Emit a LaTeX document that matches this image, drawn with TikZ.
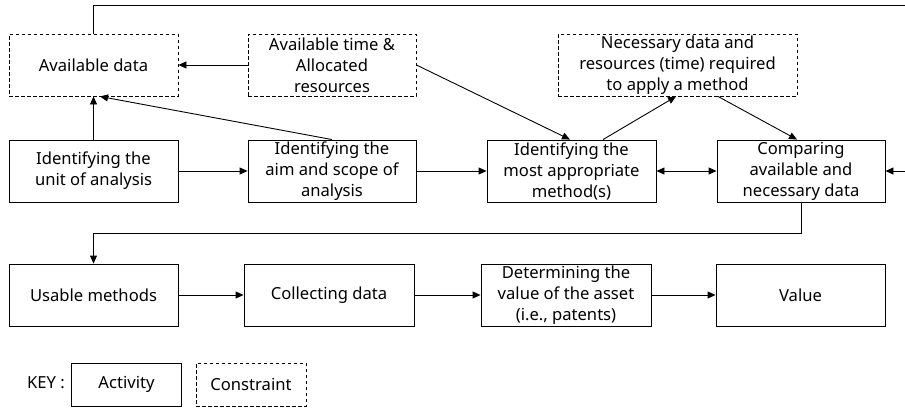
\documentclass[tikz,border=0pt]{standalone}
\usepackage{fontspec}
\setmainfont{Noto Sans}
\usetikzlibrary{arrows.meta}
\begin{document}
\begin{tikzpicture}[x=1pt,y=-1pt,
  every node/.style={font=\fontsize{16.6}{21}\selectfont, align=center, inner sep=0pt},
  act/.style={draw, line width=0.9pt, minimum height=62pt},
  con/.style={draw, dashed, dash pattern=on 3.5pt off 2.5pt, line width=0.9pt, minimum height=62pt},
  conn/.style={line width=0.9pt, -{Triangle[length=8pt,width=7pt]}},
  biconn/.style={line width=0.9pt, {Triangle[length=8pt,width=7pt]}-{Triangle[length=8pt,width=7pt]}},
  plain/.style={line width=0.9pt}
]
\useasboundingbox (0,0) rectangle (905,408);
% row 1 (constraints)
\node[con, minimum width=169pt] (avail) at (93.5,65) {Available data};
\node[con, minimum width=168pt] (time) at (332,65) {Available time \&\\Allocated\\resources};
\node[con, minimum width=239pt] (need) at (677.5,65) {Necessary data and\\resources (time) required\\to apply a method};
% row 2
\node[act, minimum width=169pt] (unit) at (93.5,171) {Identifying the\\unit of analysis};
\node[act, minimum width=168pt] (aim) at (332,171) {Identifying the\\aim and scope of\\analysis};
\node[act, minimum width=169pt] (most) at (571.5,171) {Identifying the\\most appropriate\\method(s)};
\node[act, minimum width=168pt] (comp) at (801,171) {Comparing\\available and\\necessary data};
% row 3
\node[act, minimum width=169pt] (usable) at (93.5,295) {Usable methods};
\node[act, minimum width=170pt] (collect) at (329,295) {Collecting data};
\node[act, minimum width=170pt] (determ) at (566,295) {Determining the\\value of the asset\\(i.e., patents)};
\node[act, minimum width=169pt] (value) at (800.5,295) {Value};
% key
\node (key) at (46,383) {KEY :};
\node[act, minimum width=110pt, minimum height=43pt] (activity) at (126.5,384.5) {Activity};
\node[con, minimum width=110pt, minimum height=43pt] (constraint) at (251,384.5) {Constraint};
% connectors
\coordinate (topleft) at (93.5,5);
\coordinate (topright) at (912,5);
\coordinate (rightin) at (912,171);
\draw[conn] (avail.north) -- (topleft) -- (topright) -- (rightin) -- (comp.east);
\draw[conn] (time.west) -- (avail.east);
\draw[conn] (unit.north) -- (avail.south);
\draw[conn] (aim.north) -- (avail.south -| 100,0);
\draw[conn] (unit.east) -- (aim.west);
\draw[conn] (aim.east) -- (most.west);
\draw[conn] (time.east) -- (most.north -| 570,0);
\draw[conn] (most.north -| 603,0) -- (need.south -| 676,0);
\draw[conn] (need.south -| 718,0) -- (comp.north -| 797,0);
\draw[biconn] (most.east) -- (comp.west);
\coordinate (downright) at (801,233);
\coordinate (downleft) at (93.5,233);
\draw[conn] (comp.south) -- (downright) -- (downleft) -- (usable.north);
\draw[conn] (usable.east) -- (collect.west);
\draw[conn] (collect.east) -- (determ.west);
\draw[conn] (determ.east) -- (value.west);
\end{tikzpicture}
\end{document}
